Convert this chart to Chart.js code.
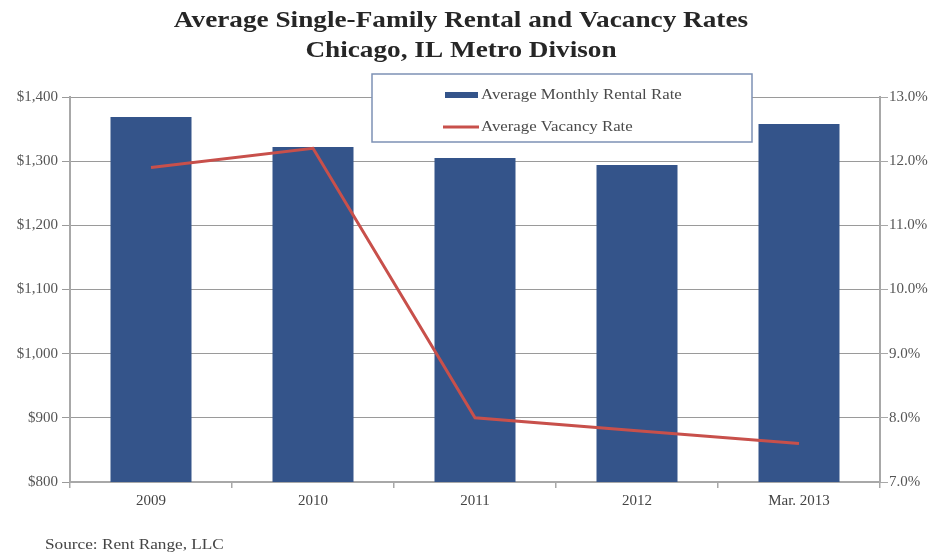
<!DOCTYPE html>
<html>
<head>
<meta charset="utf-8">
<script src="https://cdn.jsdelivr.net/npm/chart.js@4/dist/chart.umd.min.js"></script>
<style>
  html, body { margin: 0; padding: 0; background: #fff; }
  #wrap { width: 937px; height: 556px; position: relative; }
</style>
</head>
<body>
<div id="wrap"><canvas id="rentChart" width="937" height="556"></canvas></div>
<script>
const categories = ['2009', '2010', '2011', '2012', 'Mar. 2013'];
const rentalRates = [1369, 1322, 1305, 1294, 1358];
const vacancyRates = [11.9, 12.2, 8.0, 7.8, 7.6];
const rentTicks = [800, 900, 1000, 1100, 1200, 1300, 1400];
const vacancyTicks = [7, 8, 9, 10, 11, 12, 13];
const titleLines = ['Average Single-Family Rental and Vacancy Rates', 'Chicago, IL Metro Divison'];
const sourceText = 'Source: Rent Range, LLC';

const serif = "'Liberation Serif', 'Times New Roman', serif";
const gridGray = '#9a9a9a';
const axisGray = '#a8a8a8';

// the picture is a bit stretched sideways, so text drawn here gets a x-scale
function wideText(ctx, text, x, y, sx, align) {
    ctx.save();
    ctx.translate(x, y);
    ctx.scale(sx, 1);
    ctx.textAlign = align || 'left';
    ctx.fillText(text, 0, 0);
    ctx.restore();
}

// title, legend box and source line
const extras = {
    id: 'extras',
    afterDraw(chart) {
        const ctx = chart.ctx;
        const bars = chart.data.datasets.find(d => d.type === 'bar');
        const line = chart.data.datasets.find(d => d.type === 'line');
        ctx.save();
        ctx.textBaseline = 'middle';

        ctx.fillStyle = '#262626';
        ctx.font = 'bold 24px ' + serif;
        wideText(ctx, titleLines[0], 461, 21, 1.135, 'center');
        wideText(ctx, titleLines[1], 461, 51, 1.135, 'center');

        ctx.fillStyle = '#fff';
        ctx.fillRect(372, 74, 380, 68);
        ctx.strokeStyle = '#7d91b5';
        ctx.lineWidth = 1.5;
        ctx.strokeRect(372, 74, 380, 68);

        ctx.font = '14px ' + serif;
        ctx.fillStyle = bars.backgroundColor;
        ctx.fillRect(445, 92, 33, 6);
        ctx.fillStyle = '#4a4a4a';
        wideText(ctx, bars.label, 481, 95, 1.2);

        ctx.strokeStyle = line.borderColor;
        ctx.lineWidth = 3;
        ctx.beginPath();
        ctx.moveTo(443, 127);
        ctx.lineTo(479, 127);
        ctx.stroke();
        ctx.fillStyle = '#4a4a4a';
        wideText(ctx, line.label, 481, 127, 1.2);

        ctx.font = '14px ' + serif;
        ctx.fillStyle = '#444';
        wideText(ctx, sourceText, 45, 545, 1.23);
        ctx.restore();
    }
};

new Chart(document.getElementById('rentChart').getContext('2d'), {
    data: {
        labels: categories,
        datasets: [
            {
                type: 'line',
                label: 'Average Vacancy Rate',
                data: vacancyRates,
                yAxisID: 'y1',
                borderColor: '#c8504b',
                borderWidth: 3,
                pointRadius: 0,
                tension: 0,
                order: 0
            },
            {
                type: 'bar',
                label: 'Average Monthly Rental Rate',
                data: rentalRates,
                yAxisID: 'y',
                backgroundColor: '#34548a',
                categoryPercentage: 1,
                barPercentage: 0.5,
                order: 1
            }
        ]
    },
    options: {
        responsive: false,
        animation: false,
        layout: { padding: { top: 97, left: 0, right: 0, bottom: 0 } },
        plugins: {
            legend: { display: false },
            tooltip: { enabled: false },
            title: { display: false }
        },
        scales: {
            x: {
                offset: true,
                grid: { offset: true, drawOnChartArea: false, drawTicks: true, tickLength: 6, color: axisGray, lineWidth: 1.5 },
                border: { color: axisGray, width: 2 },
                ticks: { color: '#444', font: { family: serif, size: 15 }, padding: 4 },
                afterFit(scale) { scale.height = 74; }
            },
            y: {
                position: 'left',
                min: 800,
                max: 1400,
                afterBuildTicks(scale) { scale.ticks = rentTicks.map(v => ({ value: v })); },
                grid: { color: gridGray, lineWidth: 1, tickLength: 8 },
                border: { color: axisGray, width: 2 },
                ticks: {
                    color: '#555',
                    font: { family: serif, size: 15 },
                    padding: 4,
                    callback: v => '$' + v.toLocaleString('en-US')
                },
                afterFit(scale) { scale.width = 70; }
            },
            y1: {
                position: 'right',
                min: 7,
                max: 13,
                afterBuildTicks(scale) { scale.ticks = vacancyTicks.map(v => ({ value: v })); },
                grid: { drawOnChartArea: false, color: axisGray, tickLength: 8 },
                border: { color: axisGray, width: 2 },
                ticks: {
                    color: '#555',
                    font: { family: serif, size: 15 },
                    padding: 1,
                    callback: v => v.toFixed(1) + '%'
                },
                afterFit(scale) { scale.width = 57; }
            }
        }
    },
    plugins: [extras]
});
</script>
</body>
</html>
